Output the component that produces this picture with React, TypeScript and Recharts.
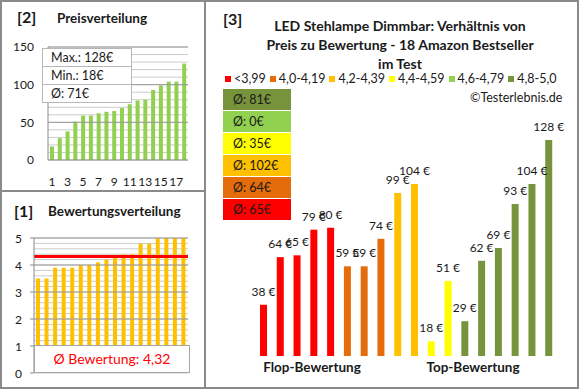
import React from 'react';
import { BarChart, Bar, XAxis, YAxis, CartesianGrid, ReferenceLine, Cell, LabelList } from 'recharts';

// ---- data ----
const barPrices = [38, 64, 65, 79, 80, 59, 59, 74, 99, 104, 18, 51, 29, 62, 69, 93, 104, 128];
const barGroups = [0, 0, 0, 0, 0, 1, 1, 1, 2, 2, 3, 3, 5, 5, 5, 5, 5, 5];
const ratings = [3.5, 3.5, 3.9, 3.9, 3.9, 4.0, 4.0, 4.1, 4.2, 4.3, 4.4, 4.4, 4.8, 4.8, 5.0, 5.0, 5.0, 5.0];
const groupLabels = ['<3,99', '4,0-4,19', '4,2-4,39', '4,4-4,59', '4,6-4,79', '4,8-5,0'];
const groupColors = ['#FF0000', '#E46C0A', '#FFC000', '#FFFF00', '#92D050', '#77933C'];
const priceTicks = [0, 10, 20, 30, 40, 50, 60, 70, 80, 90, 100, 110, 120, 130, 140, 150];
const ratingTicks = [0, 0.2, 0.4, 0.6, 0.8, 1, 1.2, 1.4, 1.6, 1.8, 2, 2.2, 2.4, 2.6, 2.8, 3, 3.2, 3.4, 3.6, 3.8, 4, 4.2, 4.4, 4.6, 4.8, 5];
const titleLines = ['LED Stehlampe Dimmbar: Verhältnis von', 'Preis zu Bewertung - 18 Amazon Bestseller', 'im Test'];

const sortedPrices = [...barPrices].sort((a, b) => a - b);
const priceData = sortedPrices.map((p, i) => ({ idx: String(i + 1), price: p }));
const ratingData = ratings.map((r, i) => ({ idx: String(i + 1), rating: r }));
const mainData = barPrices.map((p, i) => ({ idx: String(i + 1), price: p, group: barGroups[i] }));

const maxPrice = Math.max(...barPrices);
const minPrice = Math.min(...barPrices);
const avgPrice = Math.round(barPrices.reduce((a, b) => a + b, 0) / barPrices.length);
const avgRating = ratings.reduce((a, b) => a + b, 0) / ratings.length;
const groupAvg = groupColors.map((_, g) => {
  const v = barPrices.filter((_, i) => barGroups[i] === g);
  return v.length ? Math.round(v.reduce((a, b) => a + b, 0) / v.length) : 0;
});

const FONT = 'Lato, "Open Sans", sans-serif';
const TEXT = '#1a1a1a';
const BORDER = '#8a8a8a';
const GRID_MINOR = '#cccccc';
const GRID_MAJOR = '#9a9a9a';

const RatingTick = (props: any) => {
  const { x, y, payload } = props;
  const v = payload.value;
  if (Math.abs(v - Math.round(v)) > 1e-6) return null;
  return (
    <g>
      <line x1={x - 4} x2={x} y1={y} y2={y} stroke={BORDER} />
      <text x={x - 12} y={y} textAnchor="end" dominantBaseline="central" fontSize={12} fill={TEXT} fontFamily={FONT}>
        {Math.round(v)}
      </text>
    </g>
  );
};

const PriceLabel = (props: any) => {
  const { x, y, width, value } = props;
  return (
    <text x={Number(x) + Number(width) / 2} y={Number(y) - 9} textAnchor="middle" fontSize={12} fill={TEXT} fontFamily={FONT}>
      {`${value} €`}
    </text>
  );
};

const abs = (l: number, t: number): React.CSSProperties => ({ position: 'absolute', left: l, top: t });

export default function App() {
  return (
    <div style={{ position: 'absolute', left: 0, top: 0, width: 580, height: 390, background: '#fff', fontFamily: FONT, color: TEXT, overflow: 'hidden' }}>
      {/* borders */}
      <div style={{ ...abs(0, 0), width: 579, height: 389, border: `2px solid ${BORDER}`, boxSizing: 'border-box' }} />
      <div style={{ ...abs(204, 0), width: 2, height: 389, background: BORDER }} />
      <div style={{ ...abs(0, 190), width: 205, height: 2, background: BORDER }} />

      {/* Panel 2: Preisverteilung */}
      <div style={{ ...abs(17, 7), fontSize: 16, fontWeight: 700 }}>[2]</div>
      <div style={{ ...abs(57, 10), fontSize: 13.5, fontWeight: 700 }}>Preisverteilung</div>
      <div style={abs(0, 0)}>
        <BarChart width={205} height={191} data={priceData} margin={{ top: 47, right: 17, left: 0, bottom: 0 }} barCategoryGap={0}>
          <CartesianGrid vertical={false} stroke={GRID_MINOR} />
          <XAxis dataKey="idx" interval={1} height={31} tickLine={false} tickSize={0} tickMargin={17} axisLine={{ stroke: BORDER }} tick={{ fontSize: 12, fill: TEXT, fontFamily: FONT }} />
          <YAxis width={48} domain={[0, 150]} ticks={priceTicks} interval={0} tickLine={false} tickSize={0} tickMargin={14} axisLine={{ stroke: BORDER }}
            tickFormatter={(v: number) => (v % 50 === 0 ? String(v) : '')} tick={{ fontSize: 12, fill: TEXT, fontFamily: FONT }} />
          {[50, 100, 150].map((v) => (
            <ReferenceLine key={v} y={v} stroke={GRID_MAJOR} />
          ))}
          <Bar dataKey="price" fill="#92D050" barSize={4} isAnimationActive={false} />
        </BarChart>
      </div>
      <div style={{ ...abs(42, 48), width: 88, background: '#fff', border: '1px solid #b8b8b8', fontSize: 12.5 }}>
        {[`Max.: ${maxPrice}€`, `Min.: ${minPrice}€`, `Ø: ${avgPrice}€`].map((t, i) => (
          <div key={i} style={{ height: 17, lineHeight: '17px', paddingLeft: 8, borderTop: i ? '1px solid #b8b8b8' : 'none' }}>{t}</div>
        ))}
      </div>

      {/* Panel 1: Bewertungsverteilung */}
      <div style={{ ...abs(14, 201), fontSize: 16, fontWeight: 700 }}>[1]</div>
      <div style={{ ...abs(48, 203), fontSize: 13.5, fontWeight: 700 }}>Bewertungsverteilung</div>
      <div style={abs(0, 191)}>
        <BarChart width={205} height={197} data={ratingData} margin={{ top: 47, right: 17, left: 0, bottom: 15 }} barCategoryGap={0}>
          <CartesianGrid vertical={false} stroke={GRID_MINOR} />
          <XAxis dataKey="idx" hide />
          <YAxis width={34} domain={[0, 5]} ticks={ratingTicks} interval={0} tickLine={false} tickSize={0} tickMargin={0} axisLine={{ stroke: BORDER }} tick={<RatingTick />} />
          {[1, 2, 3, 4, 5].map((v) => (
            <ReferenceLine key={v} y={v} stroke={GRID_MAJOR} />
          ))}
          <Bar dataKey="rating" fill="#FFC000" barSize={4} isAnimationActive={false} />
          <ReferenceLine y={avgRating} stroke="#FF0000" strokeWidth={3} />
        </BarChart>
      </div>
      <div style={{ ...abs(34, 345), width: 156, height: 28, boxSizing: 'border-box', background: '#fff', border: '1px solid #a6a6a6', color: '#FF0000', fontSize: 14, textAlign: 'center', lineHeight: '26px' }}>
        {`Ø Bewertung: ${avgRating.toFixed(2).replace('.', ',')}`}
      </div>

      {/* Panel 3 */}
      <div style={{ ...abs(223, 9), fontSize: 16, fontWeight: 700 }}>[3]</div>
      <div style={{ ...abs(250, 16), width: 300, textAlign: 'center', fontSize: 14, fontWeight: 700, lineHeight: '19px' }}>
        {titleLines.map((l, i) => (
          <div key={i}>{l}</div>
        ))}
      </div>
      <div style={{ ...abs(225, 71), display: 'flex', alignItems: 'center', fontSize: 12.5, whiteSpace: 'nowrap' }}>
        {groupLabels.map((l, i) => (
          <div key={i} style={{ display: 'flex', alignItems: 'center', marginRight: 4 }}>
            <span style={{ display: 'inline-block', width: 6, height: 6, background: groupColors[i], marginRight: 3 }} />
            <span>{l}</span>
          </div>
        ))}
      </div>
      <div style={{ ...abs(470, 90), fontSize: 12.5 }}>©Testerlebnis.de</div>
      {[5, 4, 3, 2, 1, 0].map((g, i) => (
        <div key={g} style={{ ...abs(223, 89 + i * 22), width: 68, height: 21, background: groupColors[g], fontSize: 12.5, lineHeight: '21px', paddingLeft: 10, boxSizing: 'border-box' }}>
          {`Ø: ${groupAvg[g]}€`}
        </div>
      ))}
      <div style={abs(205, 0)}>
        <BarChart width={373} height={388} data={mainData} margin={{ top: 118, right: 21, left: 50, bottom: 32 }} barCategoryGap={0}>
          <XAxis dataKey="idx" hide />
          <YAxis hide domain={[10, 140]} allowDataOverflow />
          <Bar dataKey="price" barSize={7} isAnimationActive={false}>
            {mainData.map((d, i) => (
              <Cell key={i} fill={groupColors[d.group]} />
            ))}
            <LabelList dataKey="price" content={<PriceLabel />} />
          </Bar>
        </BarChart>
      </div>
      <div style={{ ...abs(262, 359), width: 100, textAlign: 'center', fontSize: 13.5, fontWeight: 700 }}>Flop-Bewertung</div>
      <div style={{ ...abs(423, 359), width: 100, textAlign: 'center', fontSize: 13.5, fontWeight: 700 }}>Top-Bewertung</div>
    </div>
  );
}
